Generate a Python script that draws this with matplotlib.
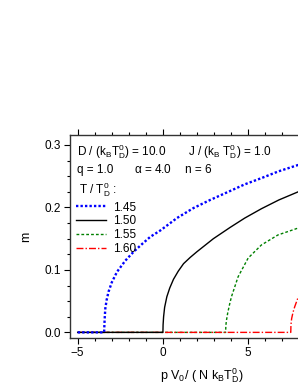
import matplotlib
matplotlib.use("Agg")
import matplotlib.pyplot as plt
from matplotlib.ticker import MultipleLocator, FixedLocator

plt.rcParams['font.family'] = ['Liberation Sans', 'DejaVu Sans']
plt.rcParams['mathtext.fontset'] = 'custom'
plt.rcParams['mathtext.rm'] = 'Liberation Sans'
plt.rcParams['mathtext.it'] = 'Liberation Sans'
plt.rcParams['font.size'] = 8

# values
temps = ['1.45', '1.50', '1.55', '1.60']
x_ticks = [-5, 0, 5]

x_145 = [-5, -3.45, -3.42, -3.38, -3.3, -3.19, -3.0, -2.69, -2.2, -1.72, -1.2, -0.74,
         -0.16, 0.43, 0.82, 1.79, 2.77, 3.83, 4.8, 5.78, 6.8, 7.93, 8.2]
m_145 = [0, 0, 0.020, 0.038, 0.052, 0.065, 0.080, 0.097, 0.115, 0.129, 0.142, 0.153,
         0.163, 0.175, 0.183, 0.199, 0.212, 0.225, 0.237, 0.247, 0.258, 0.268, 0.271]

x_150 = [-5, 0, 0.01, 0.04, 0.1, 0.23, 0.4, 0.62, 0.9, 1.21, 1.6, 1.99, 2.96, 3.94,
         4.8, 5.78, 6.8, 7.93, 8.2]
m_150 = [0, 0, 0.012, 0.025, 0.040, 0.057, 0.071, 0.085, 0.098, 0.110, 0.120, 0.129,
         0.150, 0.168, 0.183, 0.198, 0.212, 0.225, 0.228]

x_155 = [-5, 3.68, 3.69, 3.72, 3.8, 3.92, 4.02, 4.41, 5.0, 5.78, 6.75, 7.93, 8.2]
m_155 = [0, 0, 0.010, 0.018, 0.031, 0.046, 0.057, 0.089, 0.119, 0.140, 0.156, 0.167, 0.169]

x_160 = [-5, 7.5, 7.51, 7.55, 7.63, 7.73, 7.93, 8.2]
m_160 = [0, 0, 0.012, 0.022, 0.032, 0.041, 0.056, 0.070]

fig = plt.figure(figsize=(2.98, 3.85), dpi=100)
# axes runs past the right edge of the figure like in the original
ax = fig.add_axes([70/298, 47/385, 263.4/298, 203/385])

ax.plot(x_150, m_150, color='black', lw=1.0, label=temps[1], zorder=3)
ax.plot(x_155, m_155, color='#008000', lw=1.0, ls=(0, (2, 1.5)), label=temps[2], zorder=2)
ax.plot(x_160, m_160, color='red', lw=1.0, ls=(0, (5, 1.5, 1, 1.5)), label=temps[3], zorder=2)
ax.plot(x_145, m_145, color='#0000ff', lw=1.7, ls=(0, (1, 0.9)), label=temps[0], zorder=4)

ax.set_xlim(-5.45, 10)
ax.set_ylim(-0.009, 0.316)
ax.xaxis.set_major_locator(FixedLocator(x_ticks))
ax.xaxis.set_minor_locator(MultipleLocator(1))
ax.yaxis.set_major_locator(MultipleLocator(0.1))
ax.yaxis.set_minor_locator(MultipleLocator(0.025))
ax.yaxis.set_major_formatter(plt.FormatStrFormatter('%.1f'))
ax.tick_params(which='both', direction='out', top=True, right=False, width=0.8)
ax.tick_params(which='major', length=4, pad=2.5, labelsize=8.5)
ax.tick_params(which='minor', length=2)
for s in ax.spines.values():
    s.set_linewidth(1.0)
    s.set_color('#333333')

ax.set_xlabel(r'p V$_\mathregular{0}$/ ( N k$_\mathregular{B}$T$_\mathregular{D}^\mathregular{0}$)', fontsize=9, labelpad=5)
ax.set_ylabel('m', fontsize=9, labelpad=9)

ax.text(0.025, 0.901, r'D / (k$_\mathregular{B}$T$_\mathregular{D}^\mathregular{0}$) = 10.0', transform=ax.transAxes, fontsize=8.5)
ax.text(0.448, 0.901, r'J / (k$_\mathregular{B}$ T$_\mathregular{D}^\mathregular{0}$) = 1.0', transform=ax.transAxes, fontsize=8.5)
ax.text(0.025, 0.811, 'q = 1.0', transform=ax.transAxes, fontsize=8.5)
ax.text(0.243, 0.811, r'$\mathregular{\alpha}$ = 4.0', transform=ax.transAxes, fontsize=8.5)
ax.text(0.437, 0.811, 'n = 6', transform=ax.transAxes, fontsize=8.5)
ax.text(0.036, 0.713, r'T / T$_\mathregular{D}^\mathregular{0}$ :', transform=ax.transAxes, fontsize=8.5)

h, l = ax.get_legend_handles_labels()
order = [3, 0, 1, 2]
ax.legend([h[i] for i in order], [l[i] for i in order], loc='upper left',
          bbox_to_anchor=(0.024, 0.672), frameon=False, borderpad=0, borderaxespad=0,
          handlelength=2.5, handletextpad=0.6, labelspacing=0.15, fontsize=8.5)

fig.savefig('out.png', dpi=100)
